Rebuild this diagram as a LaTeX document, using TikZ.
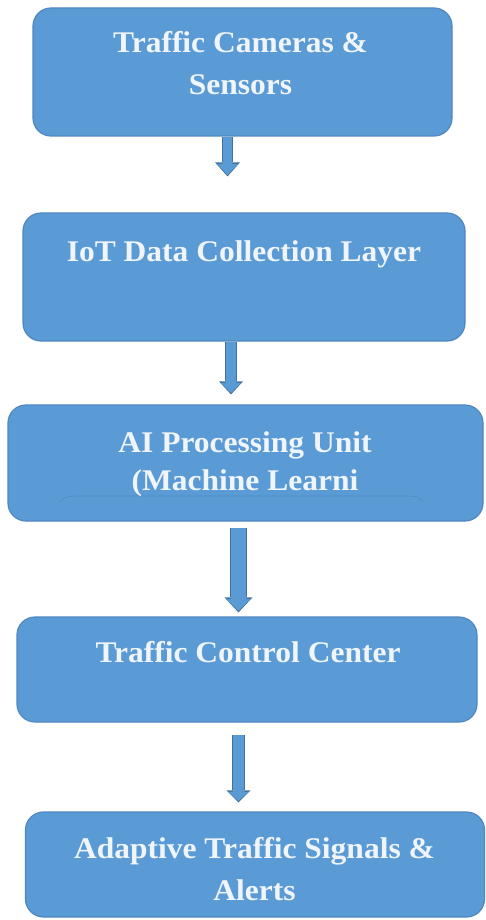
\documentclass[tikz,border=0pt]{standalone}
\usepackage{fontspec}
\setmainfont{Liberation Serif}[FakeStretch=1.05]
\usetikzlibrary{arrows.meta, calc, positioning}

\definecolor{stageblue}{HTML}{5B9BD5}
\definecolor{stageedge}{HTML}{4F87C0}
\definecolor{flowedge}{HTML}{41719C}
\definecolor{stagetext}{HTML}{F0F5FB}

\tikzset{
 stage/.style={rounded corners=18pt, fill=stageblue, draw=stageedge, line width=1.2pt},
 stagelabel/.style={text=stagetext, font=\bfseries\fontsize{30}{42}\selectfont, align=center, inner sep=0pt},
 flow/.style n args={4}{draw=flowedge, line width=#1, shorten >=#4,
   -{Triangle[length=#3, width=#2, line width=0pt]},
   postaction={draw=stageblue, line width=#1-2pt, shorten >=#4+1.5pt,
     -{Triangle[length=#3-3pt, width=#2-4pt, line width=0pt]}}}
}

\begin{document}
\begin{tikzpicture}[x=1pt, y=-1pt]
 \useasboundingbox (0,0) rectangle (486,920);

 % stages
 \node[stage, minimum width=419pt, minimum height=128pt] (cams) at (242.5,72) {};
 \node[stage, minimum width=442pt, minimum height=128pt] (iot) at (244,277) {};
 \node[stage, minimum width=475pt, minimum height=116pt] (ai) at (245.5,463) {};
 \node[stage, minimum width=460pt, minimum height=105pt] (ctrl) at (247,669.5) {};
 \node[stage, minimum width=459pt, minimum height=105pt] (signals) at (255,864.5) {};

 \draw[stageedge!85!stageblue, line width=0.6pt] (60,502) .. controls (64,497) .. (76,496) -- (410,496) .. controls (419,497) .. (423,502);

 % texts (base = last line)
 \node[stagelabel, anchor=base] (camstext) at (240.5,95) {Traffic Cameras \&\\Sensors};
 \node[stagelabel, anchor=base] (iottext) at (244,261) {IoT Data Collection Layer};
 \node[stagelabel, anchor=base, font=\bfseries\fontsize{30}{38}\selectfont] (aitext) at (245,490) {AI Processing Unit\\(Machine Learni};
 \node[stagelabel, anchor=base] (ctrltext) at (248,662) {Traffic Control Center};
 \node[stagelabel, anchor=base] (signalstext) at (254.5,900) {Adaptive Traffic Signals \&\\Alerts};

 % arrows
 \draw[flow={11pt}{25pt}{14pt}{36pt}] ([xshift=-15pt]cams.south) -- ([xshift=-15pt]cams.south |- iot.north);
 \draw[flow={12pt}{24pt}{13pt}{10pt}] ([xshift=-13pt]iot.south) -- ([xshift=-13pt]iot.south |- ai.north);
 \draw[flow={17pt}{28pt}{15pt}{4pt}, shorten <=6pt] ([xshift=-7pt]ai.south) -- ([xshift=-7pt]ai.south |- ctrl.north);
 \draw[flow={13pt}{24pt}{12pt}{9pt}, shorten <=12pt] ([xshift=-8.5pt]ctrl.south) -- ([xshift=-8.5pt]ctrl.south |- signals.north);
\end{tikzpicture}
\end{document}
